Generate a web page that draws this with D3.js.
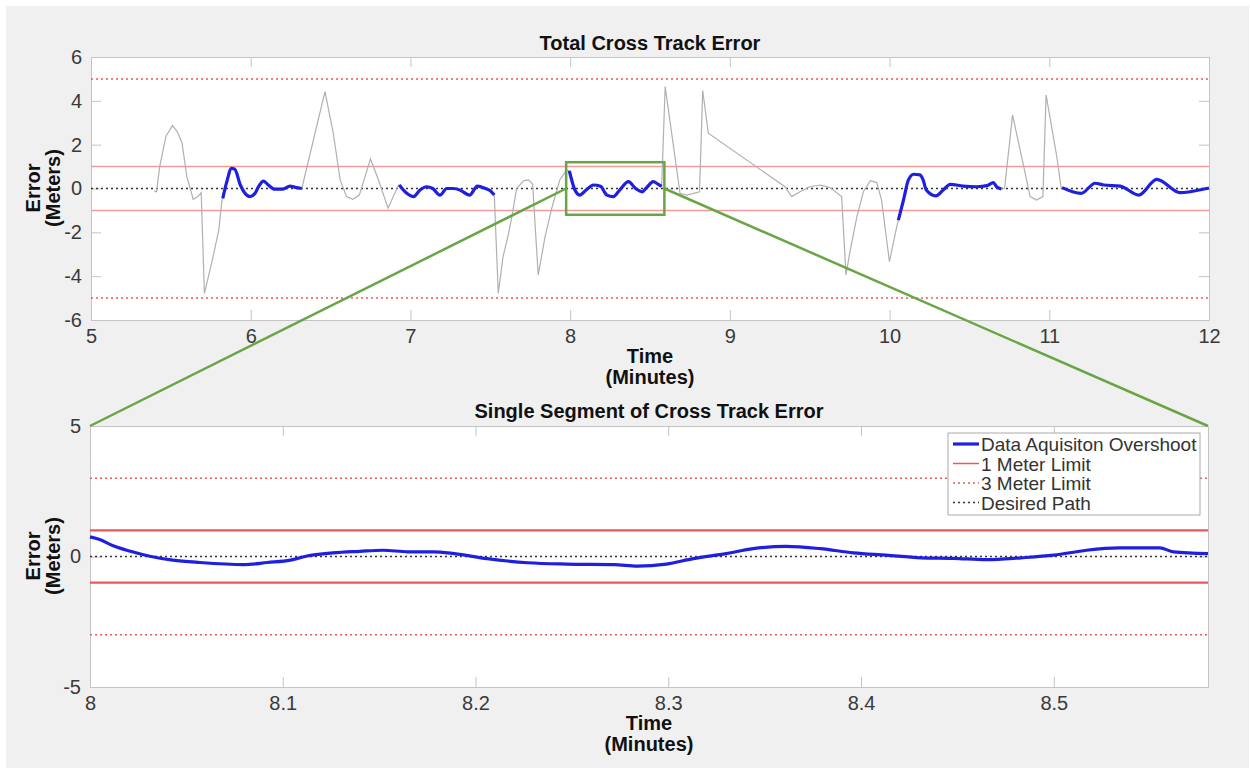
<!DOCTYPE html>
<html>
<head>
<meta charset="utf-8">
<script src="https://d3js.org/d3.v7.min.js"></script>
<title>Cross Track Error</title>
<style>
body { margin: 0; background: #fff; }
text { font-family: "Liberation Sans", Arial, Helvetica, sans-serif; }
.titre { font-size: 20px; font-weight: bold; fill: #111; }
.leg { font-size: 19px; fill: #333; }
</style>
</head>
<body>
<div id="chart"></div>
<script>
// full trace (gray), minutes / meters
const totalTime = [5.395, 5.41, 5.43, 5.47, 5.51, 5.54, 5.57, 5.60, 5.64, 5.67, 5.69, 5.71, 5.755, 5.80, 5.82,
  5.825, 5.85, 5.88, 5.90, 5.935, 5.964, 5.996, 6.027, 6.05, 6.08, 6.11, 6.15, 6.20, 6.246, 6.28, 6.32,
  6.465, 6.517, 6.56, 6.60, 6.64, 6.68, 6.75, 6.80, 6.86, 6.925,
  6.93, 6.977, 7.02, 7.06, 7.10, 7.14, 7.185, 7.227, 7.27, 7.31, 7.37, 7.42, 7.47, 7.50, 7.525,
  7.55, 7.58, 7.61, 7.635, 7.665, 7.71, 7.74, 7.765, 7.80, 7.843, 7.885, 7.935, 7.977,
  7.995, 8.03, 8.06, 8.10, 8.145, 8.19, 8.23, 8.27, 8.31, 8.365, 8.41, 8.45, 8.48, 8.52, 8.55, 8.573,
  8.595, 8.688, 8.73, 8.81, 8.83, 8.865, 9.345, 9.387, 9.44, 9.50, 9.565, 9.627, 9.70, 9.727, 9.75,
  9.795, 9.836, 9.88, 9.92, 9.95, 9.999, 10.045,
  10.055, 10.087, 10.118, 10.15, 10.19, 10.21, 10.23, 10.29, 10.336, 10.38, 10.46, 10.546, 10.61, 10.65, 10.67, 10.70,
  10.72, 10.77, 10.84, 10.88, 10.92, 10.96, 10.98, 11.047, 11.075,
  11.08, 11.20, 11.287, 11.34, 11.444, 11.56, 11.673, 11.82, 11.986, 12.0];
const totalError = [-0.10, -0.15, 1.0, 2.4, 2.87, 2.6, 2.08, 0.54, -0.49, -0.37, -0.19, -4.79, -3.42, -1.9, -0.53,
  -0.45, 0.3, 0.92, 0.88, 0.16, -0.22, -0.37, -0.22, 0.1, 0.34, 0.16, -0.03, -0.03, 0.11, 0.05, 0.0,
  4.42, 2.52, 0.39, -0.37, -0.49, -0.3, 1.35, 0.39, -0.9, 0.16,
  0.16, -0.22, -0.37, -0.07, 0.08, 0.0, -0.3, 0.0, 0.0, -0.07, -0.3, 0.11, 0.0, -0.1, -0.3,
  -4.79, -3.11, -2.2, -1.29, 0.0, 0.36, 0.39, 0.2, -3.95, -2.2, -0.9, 0.39, 0.84,
  0.8, -0.07, -0.3, -0.07, 0.16, 0.1, -0.3, -0.37, -0.07, 0.31, 0.0, -0.15, 0.05, 0.31, 0.2, 0.1,
  4.65, -0.22, -0.3, -0.15, 4.47, 2.52, 0.08, -0.37, -0.15, 0.08, 0.16, 0.04, -0.37, -3.95, -2.96,
  -1.29, -0.15, 0.36, 0.27, -0.53, -3.34, -1.74,
  -1.44, -0.53, 0.39, 0.65, 0.62, 0.39, -0.07, -0.34, -0.07, 0.19, 0.11, 0.08, 0.13, 0.27, 0.08, -0.02,
  0.0, 3.36, 1.0, -0.37, -0.53, -0.37, 4.27, 1.45, 0.0,
  0.04, -0.22, 0.24, 0.16, 0.11, -0.3, 0.42, -0.19, 0.0, 0.02];

// data acquisition windows (blue)
const overshootStart = [5.825, 6.93, 7.995, 10.055, 11.08];
const overshootEnd = [6.32, 7.525, 8.573, 10.70, 12.0];

// zoomed segment (bottom panel)
const segmentTime = [8.0, 8.005, 8.012, 8.021, 8.031, 8.043, 8.057, 8.08, 8.092, 8.104, 8.112, 8.126, 8.14, 8.152,
  8.165, 8.178, 8.189, 8.206, 8.227, 8.247, 8.272, 8.284, 8.299, 8.313, 8.33, 8.344, 8.361, 8.379,
  8.396, 8.413, 8.431, 8.448, 8.465, 8.483, 8.5, 8.517, 8.534, 8.555, 8.562, 8.58];
const segmentError = [0.75, 0.65, 0.41, 0.2, 0.01, -0.14, -0.23, -0.31, -0.23, -0.14, 0.01, 0.14, 0.2, 0.24,
  0.18, 0.18, 0.11, -0.08, -0.24, -0.29, -0.31, -0.37, -0.29, -0.08, 0.11, 0.3, 0.39, 0.3,
  0.14, 0.05, -0.05, -0.07, -0.12, -0.05, 0.05, 0.24, 0.33, 0.33, 0.18, 0.11];

// limits
const topLimits = [1, 5];
const bottomLimits = [1, 3];
const zoomBox = {t0: 7.975, t1: 8.59, e0: -1.2, e1: 1.2};

const legendLabels = ["Data Aquisiton Overshoot", "1 Meter Limit", "3 Meter Limit", "Desired Path"];

const W = 1250, H = 772;
const blue = "#1f1fe0", red = "#e8595a", redLight = "#f19a9a", green = "#6aa545";

let svg = d3.select("#chart").append("svg")
  .attr("width", W).attr("height", H);

svg.append("rect").attr("x", 6).attr("y", 6).attr("width", 1243).attr("height", 762).attr("fill", "#f0f0f0");

let total = totalTime.map((t, i) => ({t: t, e: totalError[i]}));
let segment = segmentTime.map((t, i) => ({t: t, e: segmentError[i]}));

let panel = function(box, xDom, yDom, xTicks, yTicks, xFmt) {
  let x = d3.scaleLinear().domain(xDom).range([box.left, box.right]);
  let y = d3.scaleLinear().domain(yDom).range([box.bottom, box.top]);
  let g = svg.append("g");
  g.append("rect")
    .attr("x", box.left).attr("y", box.top)
    .attr("width", box.right - box.left).attr("height", box.bottom - box.top)
    .attr("fill", "#fff");
  // axes, matlab style box with inward ticks
  let axes = [
    [d3.axisBottom(x).tickValues(xTicks).tickFormat(xFmt).tickSizeInner(-10).tickSizeOuter(0).tickPadding(9), "translate(0," + box.bottom + ")"],
    [d3.axisTop(x).tickValues(xTicks).tickFormat("").tickSizeInner(-10).tickSizeOuter(0), "translate(0," + box.top + ")"],
    [d3.axisLeft(y).tickValues(yTicks).tickFormat(d => String(d)).tickSizeInner(-10).tickSizeOuter(0).tickPadding(9), "translate(" + box.left + ",0)"],
    [d3.axisRight(y).tickValues(yTicks).tickFormat("").tickSizeInner(-10).tickSizeOuter(0), "translate(" + box.right + ",0)"]
  ];
  axes.forEach(a => {
    let ax = g.append("g").attr("transform", a[1]).call(a[0]);
    ax.select(".domain").attr("stroke", "#c4c4c4");
    ax.selectAll(".tick line").attr("stroke", "#c4c4c4");
    ax.selectAll(".tick text").attr("fill", "#3a3a3a").style("font-size", "20px");
  });
  return {x: x, y: y, g: g};
};

let hline = function(p, v, color, width, dash) {
  p.g.append("line")
    .attr("x1", p.x.range()[0]).attr("x2", p.x.range()[1])
    .attr("y1", p.y(v)).attr("y2", p.y(v))
    .attr("stroke", color).attr("stroke-width", width)
    .attr("stroke-dasharray", dash);
};

// ---------- top panel
let topBox = {left: 91, right: 1209, top: 57, bottom: 320};
let p1 = panel(topBox, [5, 12], [-6, 6], d3.range(5, 13), d3.range(-6, 7, 2), d => String(d));

hline(p1, topLimits[1], red, 1.5, "2,3");
hline(p1, -topLimits[1], red, 1.5, "2,3");
hline(p1, topLimits[0], redLight, 1.5, null);
hline(p1, -topLimits[0], redLight, 1.5, null);
hline(p1, 0, "#333", 1.5, "2,3");

let line1 = d3.line().x(d => p1.x(d.t)).y(d => p1.y(d.e));
p1.g.append("path").datum(total)
  .attr("d", line1).attr("fill", "none").attr("stroke", "#b0b0b0").attr("stroke-width", 1.2);

let lineBlue = d3.line().curve(d3.curveMonotoneX).x(d => p1.x(d.t)).y(d => p1.y(d.e));
overshootStart.forEach((s, i) => {
  let pts = total.filter(d => d.t >= s && d.t <= overshootEnd[i]);
  p1.g.append("path").datum(pts)
    .attr("d", lineBlue).attr("fill", "none").attr("stroke", blue)
    .attr("stroke-width", 3.2).attr("stroke-linejoin", "round");
});

svg.append("text").attr("class", "titre").attr("x", 650).attr("y", 50).attr("text-anchor", "middle").text("Total Cross Track Error");
svg.append("text").attr("class", "titre").attr("x", 650).attr("y", 363).attr("text-anchor", "middle").text("Time");
svg.append("text").attr("class", "titre").attr("x", 650).attr("y", 384).attr("text-anchor", "middle").text("(Minutes)");
let yl1 = svg.append("g").attr("transform", "translate(0,188) rotate(-90)");
yl1.append("text").attr("class", "titre").attr("x", 0).attr("y", 40).attr("text-anchor", "middle").text("Error");
yl1.append("text").attr("class", "titre").attr("x", 0).attr("y", 60).attr("text-anchor", "middle").text("(Meters)");

// ---------- bottom panel
let botBox = {left: 90, right: 1208, top: 426, bottom: 687};
let p2 = panel(botBox, [8, 8.58], [-5, 5], [8, 8.1, 8.2, 8.3, 8.4, 8.5], [-5, 0, 5], d => d === 8 ? "8" : d3.format(".1f")(d));

hline(p2, bottomLimits[1], red, 1.5, "2,3");
hline(p2, -bottomLimits[1], red, 1.5, "2,3");
hline(p2, bottomLimits[0], red, 2.2, null);
hline(p2, -bottomLimits[0], red, 2.2, null);
hline(p2, 0, "#333", 1.5, "2,3");

let line2 = d3.line().curve(d3.curveMonotoneX).x(d => p2.x(d.t)).y(d => p2.y(d.e));
p2.g.append("path").datum(segment)
  .attr("d", line2).attr("fill", "none").attr("stroke", blue).attr("stroke-width", 3.2);

svg.append("text").attr("class", "titre").attr("x", 649).attr("y", 418).attr("text-anchor", "middle").text("Single Segment of Cross Track Error");
svg.append("text").attr("class", "titre").attr("x", 649).attr("y", 730).attr("text-anchor", "middle").text("Time");
svg.append("text").attr("class", "titre").attr("x", 649).attr("y", 751).attr("text-anchor", "middle").text("(Minutes)");
let yl2 = svg.append("g").attr("transform", "translate(0,556) rotate(-90)");
yl2.append("text").attr("class", "titre").attr("x", 0).attr("y", 40).attr("text-anchor", "middle").text("Error");
yl2.append("text").attr("class", "titre").attr("x", 0).attr("y", 60).attr("text-anchor", "middle").text("(Meters)");

// legend
let leg = svg.append("g");
leg.append("rect").attr("x", 948).attr("y", 433).attr("width", 252).attr("height", 82)
  .attr("fill", "#fff").attr("stroke", "#aaa").attr("stroke-width", 1);
let legStyles = [[blue, 3.2, null], [red, 1.5, null], [red, 1.5, "2,3"], ["#333", 1.5, "2,3"]];
legendLabels.forEach((lab, i) => {
  let yy = 444 + i * 19.5;
  leg.append("line").attr("x1", 953).attr("x2", 979).attr("y1", yy).attr("y2", yy)
    .attr("stroke", legStyles[i][0]).attr("stroke-width", legStyles[i][1]).attr("stroke-dasharray", legStyles[i][2]);
  leg.append("text").attr("class", "leg").attr("x", 981).attr("y", yy + 7).text(lab);
});

// zoom box and connectors
let bx0 = p1.x(zoomBox.t0), bx1 = p1.x(zoomBox.t1);
svg.append("rect")
  .attr("x", bx0).attr("y", p1.y(zoomBox.e1))
  .attr("width", bx1 - bx0).attr("height", p1.y(zoomBox.e0) - p1.y(zoomBox.e1))
  .attr("fill", "none").attr("stroke", green).attr("stroke-width", 2.5);
svg.append("line").attr("x1", bx0).attr("y1", p1.y(0)).attr("x2", botBox.left).attr("y2", botBox.top)
  .attr("stroke", green).attr("stroke-width", 2.5);
svg.append("line").attr("x1", bx1).attr("y1", p1.y(0)).attr("x2", botBox.right).attr("y2", botBox.top)
  .attr("stroke", green).attr("stroke-width", 2.5);
</script>
</body>
</html>
